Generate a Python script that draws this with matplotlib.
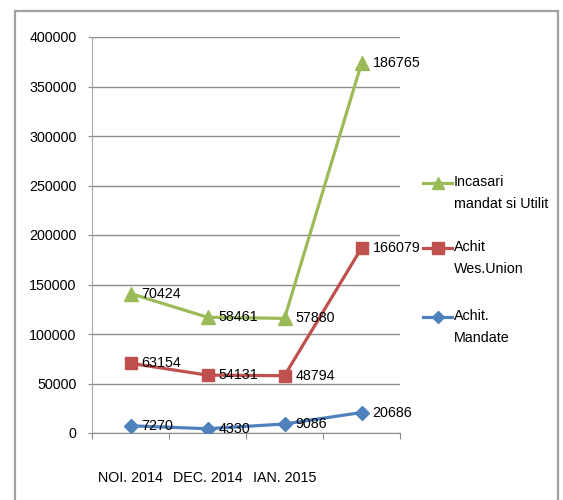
import matplotlib
matplotlib.use("Agg")
import matplotlib.pyplot as plt
from matplotlib.lines import Line2D
from matplotlib.patches import Rectangle
import numpy as np

plt.rcParams['font.family'] = ['Liberation Sans', 'DejaVu Sans']

categories = ['NOI. 2014', 'DEC. 2014', 'IAN. 2015', '']
series_names = ['Achit.\nMandate', 'Achit\nWes.Union', 'Incasari\nmandat si Utilit']
mandate = [7270, 4330, 9086, 20686]
wes_union = [63154, 54131, 48794, 166079]
incasari = [70424, 58461, 57880, 186765]
y_ticks = [0, 50000, 100000, 150000, 200000, 250000, 300000, 350000, 400000]

colors = ['#4F81BD', '#C0504D', '#9BBB59']
markers = ['D', 's', '^']
msizes = [7, 9, 10]

W, H = 563, 500
fig = plt.figure(figsize=(W / 100, H / 100), dpi=100)
ax = fig.add_axes([92 / W, 1 - 433 / H, 308 / W, 396 / H])

data = np.array([mandate, wes_union, incasari], dtype=float)
stacked = np.cumsum(data, axis=0)
x = np.arange(len(categories))

fs = 10.3
for i in range(3):
    ax.plot(x, stacked[i], color=colors[i], lw=2.3, marker=markers[i],
            ms=msizes[i], mec=colors[i], mfc=colors[i], zorder=3)
    for xi, yi, v in zip(x, stacked[i], data[i]):
        ax.annotate(f"{int(v)}", (xi, yi), xytext=(8, 0), textcoords='offset points',
                    ha='left', va='center', fontsize=fs, color='black', zorder=4)

ax.set_xlim(-0.5, len(categories) - 0.5)
ax.set_ylim(0, 400000)
ax.set_yticks(y_ticks)
ax.set_yticklabels([str(v) for v in y_ticks], fontsize=fs)
ax.yaxis.grid(True, color='#8C8C8C', lw=1.0)
ax.set_axisbelow(True)

ax.set_xticks(np.arange(len(categories) + 1) - 0.5)
ax.set_xticklabels([])
ax.set_xticks(x, minor=True)
ax.set_xticklabels(categories, minor=True, fontsize=fs)
ax.tick_params(axis='x', which='major', length=4, color='#8C8C8C', direction='out')
ax.tick_params(axis='x', which='minor', length=0, pad=27)
ax.tick_params(axis='y', length=3, color='#8C8C8C', pad=8)

for s in ['top', 'right']:
    ax.spines[s].set_visible(False)
ax.spines['left'].set_color('#A6A6A6')
ax.spines['bottom'].set_color('#8C8C8C')

# legend drawn by hand (order: green, red, blue from top)
legend_rows = [(2, 183), (1, 248), (0, 317)]
for idx, ytop in legend_rows:
    yf = 1 - ytop / H
    fig.add_artist(Line2D([423 / W, 452 / W], [yf, yf], color=colors[idx], lw=2.3,
                          transform=fig.transFigure))
    fig.add_artist(Line2D([437.5 / W], [yf], color=colors[idx], marker=markers[idx],
                          ms=msizes[idx] - 1, mec=colors[idx], mfc=colors[idx],
                          transform=fig.transFigure))
    fig.text(454 / W, yf + 8 / H, series_names[idx], fontsize=fs, ha='left', va='top',
             linespacing=1.75)

# outer frame
fig.add_artist(Rectangle((15 / W, -0.05), (558 - 15) / W, 1.05 - 11 / H,
                         transform=fig.transFigure, fill=False, edgecolor='#A0A0A0',
                         lw=1.6, clip_on=False))

fig.savefig('out.png', dpi=100)
